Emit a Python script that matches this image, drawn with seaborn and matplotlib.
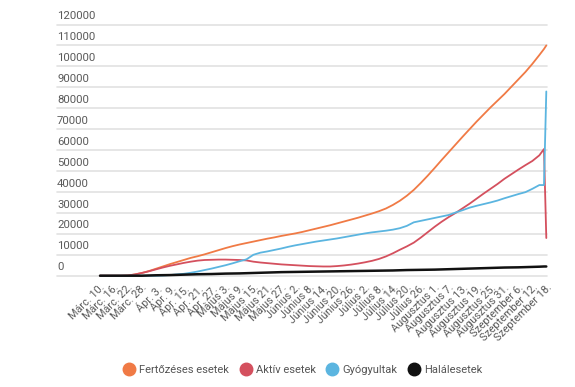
import matplotlib
matplotlib.use("Agg")
import matplotlib.pyplot as plt
from matplotlib.lines import Line2D
import seaborn as sns
import pandas as pd

# ---- data -------------------------------------------------------------
days = [0, 3, 6, 9, 12, 15, 18, 21, 24, 27,
        30, 33, 36, 39, 42, 45, 48, 51, 54, 57,
        60, 63, 66, 69, 72, 75, 78, 81, 84, 87,
        90, 93, 96, 99, 102, 105, 108, 111, 114, 117,
        120, 123, 126, 129, 132, 135, 138, 141, 144, 147,
        150, 153, 156, 159, 162, 165, 168, 171, 174, 177,
        180, 183, 186, 189, 191, 192]

fertozeses = [0, 0, 0, 0, 100, 600, 1300, 2200, 3300, 4400,
              5500, 6500, 7500, 8500, 9300, 10200, 11200, 12200, 13200, 14100,
              14900, 15600, 16300, 17000, 17700, 18300, 19000, 19600, 20200, 20900,
              21700, 22500, 23300, 24100, 25000, 25900, 26800, 27700, 28700, 29700,
              30800, 32100, 33800, 35800, 38200, 41000, 44300, 47800, 51500, 55300,
              59000, 62700, 66400, 70000, 73600, 77000, 80400, 83600, 86800, 90300,
              93800, 97300, 101200, 105400, 108300, 110000]

aktiv = [0, 0, 0, 0, 100, 600, 1300, 2100, 3000, 3900,
         4700, 5400, 6100, 6700, 7200, 7500, 7600, 7700, 7700, 7600,
         7500, 7300, 6700, 6300, 6000, 5700, 5400, 5200, 5000, 4800,
         4600, 4500, 4400, 4400, 4600, 4900, 5300, 5800, 6400, 7100,
         8000, 9200, 10700, 12400, 14000, 15800, 18200, 20800, 23400, 25800,
         28000, 30000, 32200, 34400, 36800, 39200, 41500, 43800, 46300, 48500,
         50700, 52800, 54800, 57500, 60500, 18000]

gyogyultak = [0, 0, 0, 0, 0, 0, 0, 0, 0, 100,
              300, 600, 900, 1400, 2000, 2700, 3400, 4200, 5000, 5900,
              6900, 7800, 10000, 11000, 11600, 12300, 13000, 13800, 14500, 15100,
              15700, 16300, 16800, 17300, 17800, 18400, 19000, 19600, 20200, 20700,
              21100, 21500, 22000, 22700, 23800, 25500, 26200, 26900, 27600, 28300,
              29000, 30200, 31300, 32500, 33400, 34200, 35000, 35900, 37000, 38000,
              39000, 39900, 41500, 43300, 43300, 88000]

halalesetek = [0, 0, 0, 0, 0, 0, 0, 100, 200, 250,
               300, 400, 500, 600, 700, 750, 800, 900, 1000, 1050,
               1100, 1200, 1300, 1400, 1500, 1600, 1700, 1750, 1800, 1850,
               1900, 1950, 2000, 2050, 2100, 2150, 2200, 2250, 2300, 2350,
               2400, 2450, 2500, 2600, 2700, 2750, 2800, 2850, 2900, 3000,
               3100, 3200, 3300, 3400, 3500, 3600, 3700, 3800, 3900, 3950,
               4000, 4100, 4200, 4300, 4400, 4400]

series_names = ["Fertőzéses esetek", "Aktív esetek", "Gyógyultak", "Halálesetek"]
series_colors = ["#F07A45", "#D4505E", "#5BB5E0", "#111111"]

tick_days = [0, 6, 12, 18, 24, 30, 36, 42, 48, 54, 60, 66, 72, 78, 84, 90, 96,
             102, 108, 114, 120, 126, 132, 138, 144, 150, 156, 162, 168, 174,
             180, 186, 192]
x_labels = ["Márc. 10.", "Márc. 16.", "Márc. 22.", "Márc. 28.", "Ápr. 3.",
            "Ápr. 9.", "Ápr. 15.", "Ápr. 21.", "Ápr. 27.", "Május 3.",
            "Május 9.", "Május 15.", "Május 21.", "Május 27.", "Június 2.",
            "Június 8.", "Június 14.", "Június 20.", "Június 26.", "Július 2.",
            "Július 8.", "Július 14.", "Július 20.", "Július 26.", "Augusztus 1.",
            "Augusztus 7.", "Augusztus 13.", "Augusztus 19.", "Augusztus 25.",
            "Augusztus 31.", "Szeptember 6.", "Szeptember 12.", "Szeptember 18."]

y_ticks = [0, 10000, 20000, 30000, 40000, 50000, 60000, 70000, 80000,
           90000, 100000, 110000, 120000]
y_labels = ["0", "10000", "20000", "30000", "40000", "50000", "60000",
            "70000", "80000", "90000", "100000", "110000", "120000"]

# ---- build long table ---------------------------------------------------
values = [fertozeses, aktiv, gyogyultak, halalesetek]
rows = []
for name, vals in zip(series_names, values):
    for d, v in zip(days, vals):
        rows.append({"nap": d, "eset": v, "sorozat": name})
df = pd.DataFrame(rows)

# ---- plot ---------------------------------------------------------------
sns.set_theme(style="white")
plt.rcParams["font.family"] = ["Roboto", "DejaVu Sans"]

fig = plt.figure(figsize=(5.75, 3.87), dpi=100)
ax = fig.add_axes([57 / 575, 1 - 275.7 / 387, (547 - 57) / 575, (275.7 - 24.5) / 387])

palette = dict(zip(series_names, series_colors))
sns.lineplot(data=df, x="nap", y="eset", hue="sorozat", hue_order=series_names,
             palette=palette, linewidth=1.3, legend=False, ax=ax,
             estimator=None, sort=False)
for ln in ax.lines:
    ln.set_clip_on(False)
ax.lines[-1].set_linewidth(1.8)

ax.set_xlim(-18.5, 192.3)
ax.set_ylim(0, 120000)
for s in ax.spines.values():
    s.set_visible(False)

ax.set_yticks(y_ticks)
ax.set_yticklabels([])
ax.tick_params(axis="y", length=0)
for v, lbl in zip(y_ticks, y_labels):
    ax.axhline(v, color="#e2e2e2", linewidth=1.2, zorder=0, clip_on=False)
    ax.annotate(lbl, xy=(0, v), xycoords=("axes fraction", "data"),
                xytext=(0, 2.4), textcoords="offset points",
                ha="left", va="bottom", fontsize=8.2, color="#5a5a5a")

ax.set_xticks(tick_days)
ax.set_xticklabels(x_labels, rotation=45, ha="right", rotation_mode="anchor",
                   fontsize=7.8, color="#5a5a5a")
ax.tick_params(axis="x", length=0, pad=5)
ax.set_xlabel("")
ax.set_ylabel("")

handles = [Line2D([0], [0], marker="o", linestyle="none", markersize=9,
                  markerfacecolor=c, markeredgecolor=c) for c in series_colors]
fig.legend(handles, series_names, loc="center", ncol=4,
           bbox_to_anchor=(303 / 575, 1 - 370 / 387), frameon=False,
           fontsize=8, labelcolor="#555555", handletextpad=0.4,
           columnspacing=1.0, handlelength=1.0)

fig.savefig("out.png", dpi=100, facecolor="white")
